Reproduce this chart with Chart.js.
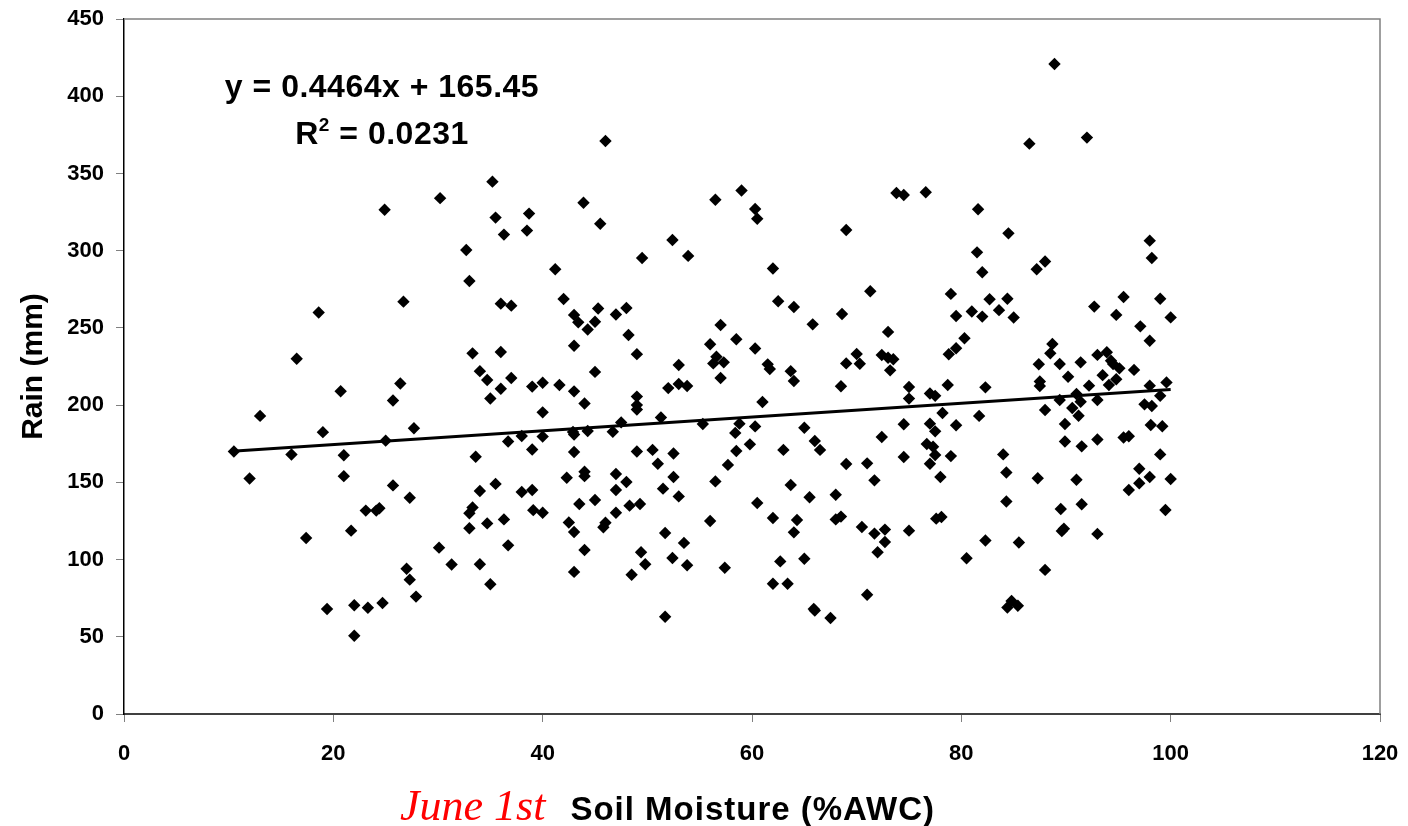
<!DOCTYPE html>
<html>
<head>
<meta charset="utf-8">
<script src="https://cdn.jsdelivr.net/npm/chart.js@4.4.1/dist/chart.umd.min.js"></script>
<style>
  body { margin: 0; background: #fff; }
  #wrap { position: relative; width: 1408px; height: 826px; }
  #eq {
    position: absolute; left: 182px; top: 63px; width: 400px;
    text-align: center; font: bold 32px 'Liberation Sans', Arial, sans-serif;
    line-height: 47px; color: #000; letter-spacing: 0.5px;
  }
  #eq sup { font-size: 19px; vertical-align: 13px; line-height: 0; }
  #xtitle {
    position: absolute; left: 400px; top: 780px; white-space: nowrap; color: #000;
  }
  #xtitle .date { font: italic 44px 'Liberation Serif', 'Times New Roman', serif; color: #ff0000; margin-right: 25px; }
  #xtitle .label { font: bold 33px 'Liberation Sans', Arial, sans-serif; letter-spacing: 1px; }
</style>
</head>
<body>
<div id="wrap">
  <canvas id="chart"></canvas>
  <div id="eq">y = 0.4464x + 165.45<br>R<sup>2</sup> = 0.0231</div>
  <div id="xtitle"><span class="date">June 1st</span><span class="label">Soil Moisture (%AWC)</span></div>
</div>
<script>
// June 1st soil moisture (%AWC) vs rain (mm)
const soilMoisture = [
  10.5, 12, 13, 16, 16.5, 17.4, 18.6, 19, 19.4, 20.7, 21, 21, 21.7, 22, 22, 23.3, 23.1, 24.1, 24.4, 24.7,
  24.9, 25, 25.7, 25.7, 26.4, 26.7, 27, 27.3, 27.3, 27.7, 27.9, 30.2, 30.1, 31.3, 32.7, 33, 33, 33.3, 33, 33.3,
  33.6, 34, 34, 34, 34.7, 34.7, 35, 35, 35.2, 35.5, 35.5, 36, 36, 36, 36.3, 36.3, 36.7, 36.7, 37, 37,
  38, 38, 38.5, 38.7, 39, 39, 39, 39.1, 40, 40, 40, 40, 41.2, 41.6, 42, 42.3, 42.5, 42.9, 43, 43,
  43, 43, 43, 43, 43, 43.4, 43.5, 43.9, 44, 44, 44, 44, 44.3, 44.3, 45, 45, 45, 45.3, 45.5, 45.8,
  46, 46, 46.7, 47, 47, 47, 47, 47.5, 48, 48, 48.2, 48.3, 48.5, 49, 49, 49, 49, 49, 49.3, 49.4,
  49.5, 49.8, 50.5, 51, 51.3, 51.5, 51.7, 51.7, 52, 52.4, 52.4, 52.5, 52.5, 53, 53, 53, 53.5, 53.8, 53.8, 53.9,
  55.3, 56, 56, 56.3, 56.5, 56.5, 56.6, 57, 57, 57.3, 57.4, 57.7, 58.4, 58.5, 58.5, 58.8, 59, 59.8, 60.3, 60.3,
  60.3, 60.5, 60.5, 61, 61.5, 61.7, 62, 62, 62, 62.5, 62.7, 63, 63.4, 63.7, 63.7, 64, 64, 64, 64.3, 65,
  65, 65.5, 65.8, 66, 65.9, 66, 66.5, 67.5, 68, 68, 68.5, 68.5, 68.6, 69, 69, 69, 70, 70.3, 70.5, 71,
  71, 71.3, 71.7, 71.7, 72, 72.4, 72.4, 72.7, 72.7, 73, 73, 73.2, 73.5, 73.8, 74.5, 74.5, 74.5, 75, 75, 75,
  76.6, 77, 77.5, 77, 77.5, 76.7, 77.3, 77.5, 77, 77.6, 78.1, 78, 78.2, 78.7, 78.8, 79, 79, 79.5, 79.5, 79.5,
  80.3, 80.5, 81, 81.5, 81.6, 81.7, 82, 82, 82.3, 82.3, 82.7, 83.6, 84, 84.3, 84.3, 84.4, 84.4, 84.5, 84.8, 85,
  85.4, 85.5, 86.5, 87.2, 87.3, 87.4, 87.5, 87.5, 88, 88, 88, 88.5, 88.7, 88.9, 89.4, 89.4, 89.5, 89.6, 89.8, 89.9,
  89.9, 90.2, 90.6, 91, 91, 91.2, 91.4, 91.4, 91.5, 91.5, 92, 92.2, 92.7, 93, 93, 93, 93, 93.5, 93.9, 94.1,
  94.3, 94.5, 94.8, 94.8, 95.1, 95.5, 95.5, 96, 96, 96.5, 97, 97, 97.1, 97.5, 98, 98, 98, 98, 98.1, 98.2,
  98.2, 99, 99, 99, 99.2, 99.5, 99.6, 100, 100
];
const rain = [
  170, 152.5, 193, 168, 230, 114, 260, 182.5, 68, 209, 167.5, 154, 118.7, 70.4, 50.7, 68.8, 131.7, 131.7, 133.2, 71.9,
  326.5, 177, 203, 148, 214, 267, 94, 87, 140, 185, 76, 334, 107.7, 96.8, 300.4, 280.4, 130, 133.7, 120.3, 233.5,
  166.6, 222, 144.4, 97, 216.3, 123.4, 204.3, 84, 344.7, 321.4, 149, 265.7, 234.4, 210.6, 310.4, 126, 176.4, 109.2, 264.4, 217.6,
  180, 143.7, 313, 324, 212, 171.3, 145, 132, 214.5, 195.3, 179.6, 130.3, 288, 213, 268.7, 153, 124, 182.6, 181, 258.4,
  238.4, 208.9, 169.6, 117.8, 92, 253.6, 136, 331, 201, 156.9, 154, 106.2, 249, 183.2, 254, 221.5, 138.6, 262.6, 317.4, 120.9,
  123.9, 371, 182.8, 258.7, 155.4, 145, 130.3, 188.8, 262.9, 150.2, 245.4, 134.9, 90.2, 233, 205.5, 200, 197.2, 170, 136, 104.7,
  295.3, 97, 171, 162, 192, 145.9, 117.2, 63, 211, 306.9, 101, 168.7, 153.5, 226, 213.7, 140.9, 110.8, 212.4, 96.3, 296.6,
  187.8, 239.4, 125, 227, 333, 150.6, 231.3, 251.9, 217.6, 227.7, 94.7, 161.3, 182, 242.6, 170.3, 188, 339, 174.6, 327, 236.7,
  186.2, 320.7, 136.6, 202, 226.4, 223.4, 288.5, 126.9, 84.3, 267.2, 98.8, 171, 84.3, 222, 148.3, 263.5, 215.6, 117.6, 125.6, 185.3,
  100.5, 140.3, 252.3, 176.8, 68, 67, 171, 62.2, 142, 126, 212.2, 127.8, 259, 313.4, 227, 161.9, 233.1, 226.8, 121.1, 162.3,
  77.2, 273.7, 151.3, 116.8, 104.7, 232.4, 179.4, 119.4, 111.4, 247.4, 230.7, 222.5, 229.7, 337.3, 336, 187.6, 166.4, 211.7, 204.2, 118.7,
  337.8, 207.5, 206, 188, 183, 174.8, 173, 167.7, 162, 126.5, 127.6, 153.5, 194.9, 213, 232.9, 272, 167, 257.7, 236.8, 187,
  243.3, 100.8, 260.6, 298.9, 326.8, 193, 286, 257.3, 211.5, 112.3, 268.5, 261.5, 168.1, 156.4, 137.6, 268.9, 69, 311.2, 73.2, 256.7,
  70.1, 111, 369.3, 288, 152.6, 226.5, 215.3, 212.4, 293, 196.8, 93.3, 233.5, 239.6, 420.9, 226.6, 203.3, 132.7, 118.5, 120, 187.8,
  176.4, 218.4, 198.1, 207.2, 151.7, 193.1, 227.7, 202.2, 173.3, 135.8, 373.2, 212.6, 263.8, 232.5, 203.3, 177.7, 116.6, 219.4, 234.2, 213,
  228.8, 226.6, 258.4, 216.7, 223.8, 270, 179, 179.8, 145, 222.8, 158.8, 149.4, 251, 200.5, 306.5, 241.7, 212.6, 153.5, 187.1, 295.3,
  199.4, 268.9, 206, 168.1, 186.3, 132.1, 214.7, 256.8, 152.2
];

// linear trendline shown on the chart
const trendSlope = 0.4464;
const trendIntercept = 165.45;
const trendX = [10.3, 100];

const xTicks = { min: 0, max: 120, step: 20 };
const yTicks = { min: 0, max: 450, step: 50 };

const points = soilMoisture.map((x, i) => ({ x: x, y: rain[i] }));
const trendPoints = trendX.map(x => ({ x: x, y: trendSlope * x + trendIntercept }));

const tickFont = { family: "'Liberation Sans', Arial, sans-serif", size: 22, weight: 'bold' };

// gray frame on the top and right of the plot area
const plotFrame = {
  id: 'plotFrame',
  beforeDatasetsDraw(chart) {
    const { ctx, chartArea: a } = chart;
    ctx.save();
    ctx.strokeStyle = '#808080';
    ctx.lineWidth = 1.5;
    ctx.beginPath();
    ctx.moveTo(a.left, a.top);
    ctx.lineTo(a.right, a.top);
    ctx.lineTo(a.right, a.bottom);
    ctx.stroke();
    ctx.restore();
  }
};

const chart = new Chart(document.getElementById('chart'), {
  type: 'scatter',
  data: {
    datasets: [
      {
        label: 'Rain',
        data: points,
        pointStyle: 'rectRot',
        pointRadius: 6.2,
        pointHoverRadius: 6.2,
        backgroundColor: '#000',
        borderColor: '#000',
        borderWidth: 0,
        order: 2
      },
      {
        label: 'Linear trend',
        type: 'line',
        data: trendPoints,
        borderColor: '#000',
        borderWidth: 3,
        pointRadius: 0,
        fill: false,
        order: 1
      }
    ]
  },
  plugins: [plotFrame],
  options: {
    responsive: true,
    maintainAspectRatio: false,
    animation: false,
    layout: { padding: { top: 19, right: 28, left: 0, bottom: 0 } },
    plugins: { legend: { display: false }, tooltip: { enabled: false } },
    scales: {
      x: {
        type: 'linear',
        min: xTicks.min,
        max: xTicks.max,
        afterFit: s => { s.height = 112; s.paddingLeft = 0; s.paddingRight = 0; },
        ticks: { stepSize: xTicks.step, color: '#000', font: tickFont, padding: 19, maxRotation: 0 },
        grid: { drawOnChartArea: false, drawTicks: true, tickLength: 8, color: '#808080' },
        border: { color: '#404040', width: 2 }
      },
      y: {
        type: 'linear',
        min: yTicks.min,
        max: yTicks.max,
        afterFit: s => { s.width = 124; s.paddingTop = 0; s.paddingBottom = 0; },
        ticks: { stepSize: yTicks.step, color: '#000', font: tickFont, padding: 12 },
        grid: { drawOnChartArea: false, drawTicks: true, tickLength: 8, color: '#808080' },
        border: { color: '#000', width: 1.5 },
        title: {
          display: true,
          text: 'Rain (mm)',
          color: '#000',
          font: { family: "'Liberation Sans', Arial, sans-serif", size: 30, weight: 'bold' },
          padding: { top: 16, bottom: 0 }
        }
      }
    }
  }
});
</script>
</body>
</html>
